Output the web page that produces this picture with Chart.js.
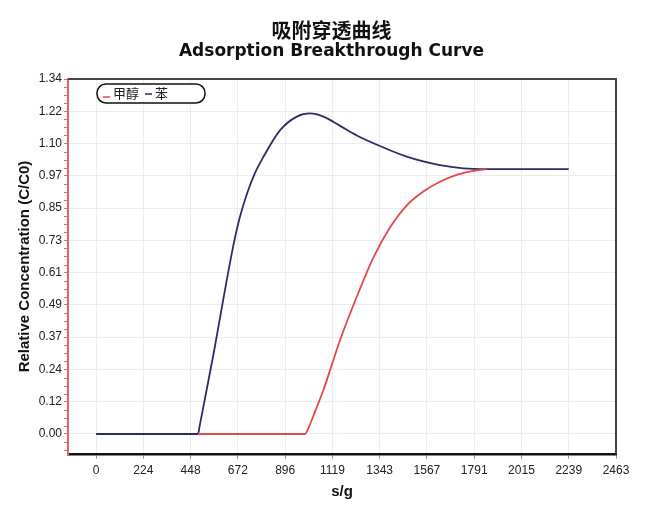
<!DOCTYPE html>
<html>
<head>
<meta charset="utf-8">
<title>吸附穿透曲线</title>
<script src="https://cdn.jsdelivr.net/npm/chart.js@4.4.1/dist/chart.umd.min.js"></script>
<style>
  body { margin: 0; background: #fff; }
  #wrap { width: 663px; height: 523px; }
</style>
</head>
<body>
<div id="wrap"><canvas id="curveChart" width="663" height="523"></canvas></div>
<script>
// Curve points (x in s/g, y = C/C0)
const methanolX = [483, 990, 1000, 1040, 1077, 1156, 1235, 1313, 1393, 1471, 1550, 1629, 1708, 1787, 1850];
const methanolY = [0, 0, 0.012, 0.09, 0.166, 0.355, 0.518, 0.665, 0.78, 0.862, 0.915, 0.952, 0.978, 0.993, 1.0];

const benzeneX = [0, 483, 490, 556, 603, 650, 680, 714, 750, 792, 872, 951, 1014, 1077, 1156, 1235, 1345, 1471, 1629, 1740, 1850, 2239];
const benzeneY = [0, 0, 0.028, 0.30, 0.51, 0.71, 0.815, 0.905, 0.98, 1.045, 1.147, 1.198, 1.21, 1.198, 1.163, 1.127, 1.087, 1.047, 1.015, 1.003, 1.0, 1.0];

const seriesNames = ['甲醇', '苯'];

const xTickLabels = ['0', '224', '448', '672', '896', '1119', '1343', '1567', '1791', '2015', '2239', '2463'];
const yTickLabels = ['0.00', '0.12', '0.24', '0.37', '0.49', '0.61', '0.73', '0.85', '0.97', '1.10', '1.22', '1.34'];

const X_MAX = 2463;
const Y_MAX = 1.34;

const RED = '#e2474c';
const NAVY = '#2b2c6a';
const AXIS_RED = '#e0666a';

function toPoints(xs, ys) {
    return xs.map((x, i) => ({ x: x, y: ys[i] }));
}

// little red ticks between the major ones on the left axis
const minorTicks = {
    id: 'minorTicks',
    afterDraw(chart) {
        const { ctx } = chart;
        const yScale = chart.scales.y;
        const step = Y_MAX / (yTickLabels.length - 1) / 4;
        const left = chart.chartArea.left;
        ctx.save();
        ctx.strokeStyle = AXIS_RED;
        ctx.lineWidth = 1;
        for (let k = Math.ceil(yScale.min / step); k * step <= yScale.max + 1e-9; k++) {
            if (k % 4 === 0) continue;
            const py = Math.round(yScale.getPixelForValue(k * step)) + 0.5;
            ctx.beginPath();
            ctx.moveTo(left - 4, py);
            ctx.lineTo(left, py);
            ctx.stroke();
        }
        ctx.restore();
    }
};

// dark top / right frame
const frame = {
    id: 'frame',
    afterDraw(chart) {
        const { ctx, chartArea } = chart;
        ctx.save();
        ctx.strokeStyle = '#444';
        ctx.lineWidth = 2;
        ctx.beginPath();
        ctx.moveTo(chartArea.left, chartArea.top);
        ctx.lineTo(chartArea.right, chartArea.top);
        ctx.lineTo(chartArea.right, chartArea.bottom);
        ctx.stroke();
        ctx.restore();
    }
};

// rounded legend box sitting inside the plot
const legendBox = {
    id: 'legendBox',
    afterDraw(chart) {
        const { ctx, chartArea } = chart;
        const x = chartArea.left + 29;
        const y = chartArea.top + 5;
        ctx.save();
        ctx.fillStyle = '#fff';
        ctx.strokeStyle = '#111';
        ctx.lineWidth = 1.5;
        ctx.beginPath();
        ctx.roundRect(x, y, 108, 19, 9);
        ctx.fill();
        ctx.stroke();

        ctx.font = '13px "Noto Sans CJK SC"';
        ctx.textBaseline = 'middle';
        ctx.fillStyle = '#222';
        let cx = x + 6;
        chart.data.datasets.forEach((ds, i) => {
            ctx.strokeStyle = ds.borderColor;
            ctx.lineWidth = 1.5;
            ctx.beginPath();
            const dy = i === 0 ? 13 : 10;
            ctx.moveTo(cx, y + dy);
            ctx.lineTo(cx + 7, y + dy);
            ctx.stroke();
            ctx.fillText(ds.label, cx + 10, y + 9.5);
            cx += 10 + ctx.measureText(ds.label).width + 6;
        });
        ctx.restore();
    }
};

const ctx = document.getElementById('curveChart').getContext('2d');
const curveChart = new Chart(ctx, {
    type: 'line',
    data: {
        datasets: [{
            label: seriesNames[0],
            data: toPoints(methanolX, methanolY),
            borderColor: RED,
            borderWidth: 1.8,
            pointRadius: 0,
            cubicInterpolationMode: 'monotone'
        }, {
            label: seriesNames[1],
            data: toPoints(benzeneX, benzeneY),
            borderColor: NAVY,
            borderWidth: 1.8,
            pointRadius: 0,
            cubicInterpolationMode: 'monotone'
        }]
    },
    options: {
        responsive: false,
        animation: false,
        devicePixelRatio: 1,
        layout: { padding: 0 },
        plugins: {
            legend: { display: false },
            tooltip: { enabled: false },
            title: {
                display: true,
                text: '吸附穿透曲线',
                color: '#111',
                font: { family: '"Noto Sans CJK SC"', size: 20, weight: 'bold', lineHeight: 1 },
                padding: { top: 20, bottom: 0 }
            },
            subtitle: {
                display: true,
                text: 'Adsorption Breakthrough Curve',
                color: '#111',
                font: { family: '"DejaVu Sans"', size: 17, weight: 'bold', lineHeight: 1 },
                padding: { top: 3, bottom: 19 }
            }
        },
        scales: {
            x: {
                type: 'linear',
                min: -133,
                max: X_MAX,
                afterFit(scale) { scale.height = 69; },
                afterBuildTicks(scale) {
                    scale.ticks = xTickLabels.map((t, i) => ({ value: i * X_MAX / (xTickLabels.length - 1) }));
                },
                ticks: {
                    autoSkip: false,
                    maxRotation: 0,
                    padding: 4,
                    color: '#222',
                    font: { family: '"Liberation Sans"', size: 12 },
                    callback: (v, i) => xTickLabels[i]
                },
                grid: { color: '#ececec', tickColor: '#999', tickLength: 5 },
                border: { color: '#111', width: 2.5 },
                title: {
                    display: true,
                    text: 's/g',
                    color: '#111',
                    font: { family: '"Liberation Sans"', size: 15, weight: 'bold' },
                    padding: { top: 0, bottom: 22 }
                }
            },
            y: {
                min: -0.0755,
                max: Y_MAX,
                afterFit(scale) { scale.width = 68; },
                afterBuildTicks(scale) {
                    scale.ticks = yTickLabels.map((t, i) => ({ value: i * Y_MAX / (yTickLabels.length - 1) }));
                },
                ticks: {
                    autoSkip: false,
                    padding: 2,
                    color: '#222',
                    font: { family: '"Liberation Sans"', size: 12 },
                    callback: (v, i) => yTickLabels[i]
                },
                grid: { color: '#ececec', tickColor: AXIS_RED, tickLength: 4 },
                border: { color: AXIS_RED, width: 2 },
                title: {
                    display: true,
                    text: 'Relative Concentration (C/C0)',
                    color: '#111',
                    font: { family: '"Liberation Sans"', size: 15, weight: 'bold' },
                    padding: { top: 16, bottom: 0 }
                }
            },
            // empty right-hand margin so the titles centre on the whole page
            yRight: {
                position: 'right',
                min: 0,
                max: 1,
                afterFit(scale) { scale.width = 47; },
                ticks: { display: false },
                grid: { display: false },
                border: { display: false }
            }
        }
    },
    plugins: [minorTicks, frame, legendBox]
});
</script>
</body>
</html>
